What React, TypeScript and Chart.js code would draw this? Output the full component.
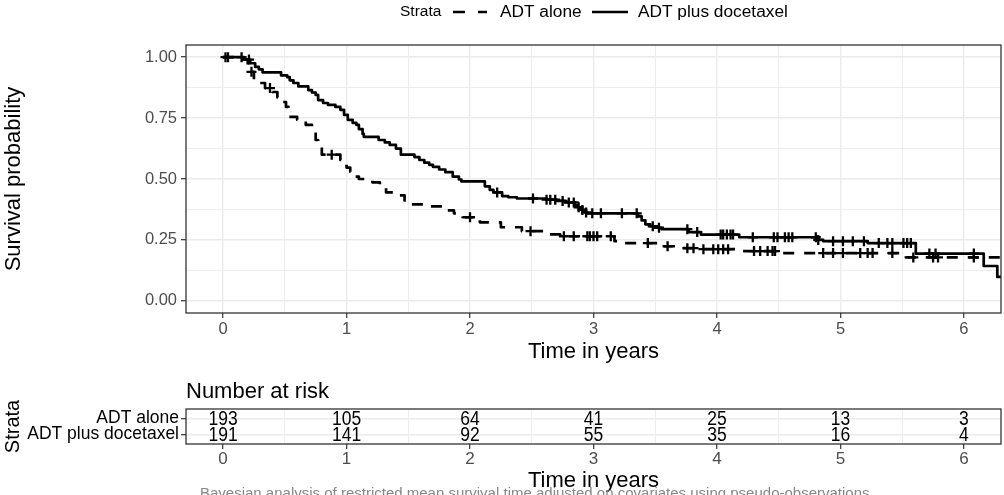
import React, { useEffect, useRef } from "react";
import { Chart, registerables } from "chart.js";

Chart.register(...registerables);

const FONT = "'Liberation Sans', Arial, Helvetica, sans-serif";

// ---------- Data ----------
const strata = ["ADT alone", "ADT plus docetaxel"];
const legendTitle = "Strata";

// Kaplan-Meier steps: ADT alone (value holds from time t onwards)
const aloneTimes = [0, 0.15, 0.2, 0.22, 0.25, 0.3, 0.34, 0.4, 0.44, 0.47, 0.51, 0.53, 0.6, 0.67, 0.72, 0.75, 0.77, 0.8, 0.95, 0.97, 1.0, 1.03, 1.06, 1.1, 1.21, 1.27, 1.32, 1.4, 1.47, 1.52, 1.62, 1.78, 1.87, 1.94, 2.08, 2.25, 2.42, 2.6, 2.73, 3.17, 3.25, 3.55, 3.7, 3.85, 4.18, 4.5, 5.53, 6.3];
const aloneSurv = [1.0, 0.99, 0.97, 0.94, 0.906, 0.894, 0.873, 0.857, 0.835, 0.816, 0.796, 0.755, 0.743, 0.722, 0.71, 0.66, 0.63, 0.6, 0.578, 0.567, 0.547, 0.53, 0.51, 0.5, 0.486, 0.47, 0.445, 0.433, 0.412, 0.396, 0.388, 0.371, 0.359, 0.343, 0.322, 0.302, 0.286, 0.273, 0.265, 0.245, 0.237, 0.224, 0.216, 0.212, 0.204, 0.196, 0.178, 0.178];
const aloneCensorTimes = [0.23, 0.38, 0.88, 2.0, 2.49, 2.76, 2.84, 2.95, 2.97, 3.0, 3.03, 3.14, 3.44, 3.6, 3.76, 3.81, 3.89, 3.97, 4.01, 4.05, 4.09, 4.3, 4.35, 4.41, 4.45, 4.47, 4.86, 4.94, 5.02, 5.16, 5.22, 5.26, 5.42, 5.59, 5.75, 5.79, 6.08];
const aloneCensorSurv = [0.94, 0.873, 0.6, 0.343, 0.286, 0.265, 0.265, 0.265, 0.265, 0.265, 0.265, 0.265, 0.237, 0.224, 0.216, 0.216, 0.212, 0.212, 0.212, 0.212, 0.212, 0.204, 0.204, 0.204, 0.204, 0.204, 0.196, 0.196, 0.196, 0.196, 0.196, 0.196, 0.196, 0.178, 0.178, 0.178, 0.178];

// Kaplan-Meier steps: ADT plus docetaxel
const doceTimes = [0, 0.17, 0.22, 0.26, 0.29, 0.32, 0.47, 0.52, 0.54, 0.57, 0.61, 0.69, 0.72, 0.75, 0.77, 0.81, 0.85, 0.91, 0.95, 0.98, 1.01, 1.05, 1.08, 1.1, 1.13, 1.14, 1.26, 1.31, 1.35, 1.4, 1.44, 1.55, 1.59, 1.63, 1.67, 1.7, 1.75, 1.8, 1.86, 1.91, 1.93, 2.12, 2.16, 2.19, 2.26, 2.31, 2.38, 2.62, 2.7, 2.77, 2.85, 2.87, 2.9, 2.93, 2.95, 3.36, 3.39, 3.42, 3.46, 3.52, 3.55, 3.77, 3.87, 4.18, 4.82, 4.86, 5.22, 5.61, 6.16, 6.27, 6.3];
const doceSurv = [1.0, 0.99, 0.975, 0.96, 0.95, 0.938, 0.925, 0.918, 0.905, 0.894, 0.88, 0.865, 0.855, 0.845, 0.824, 0.812, 0.804, 0.796, 0.784, 0.763, 0.743, 0.73, 0.722, 0.705, 0.685, 0.673, 0.66, 0.65, 0.64, 0.625, 0.6, 0.59, 0.578, 0.567, 0.558, 0.55, 0.539, 0.528, 0.51, 0.498, 0.49, 0.47, 0.455, 0.445, 0.43, 0.425, 0.42, 0.415, 0.41, 0.404, 0.392, 0.384, 0.373, 0.363, 0.359, 0.347, 0.33, 0.314, 0.306, 0.3, 0.294, 0.282, 0.272, 0.261, 0.25, 0.245, 0.237, 0.194, 0.143, 0.098, 0.098];
const doceCensorTimes = [0.02, 0.04, 0.15, 0.21, 2.22, 2.51, 2.62, 2.65, 2.69, 2.75, 2.8, 2.84, 2.88, 2.91, 2.94, 2.99, 3.06, 3.23, 3.35, 3.48, 3.53, 3.76, 3.84, 4.03, 4.05, 4.08, 4.11, 4.13, 4.29, 4.46, 4.49, 4.55, 4.58, 4.61, 4.8, 4.82, 4.94, 5.02, 5.1, 5.19, 5.31, 5.38, 5.42, 5.51, 5.54, 5.57, 5.72, 5.77, 6.08];
const doceCensorSurv = [1.0, 1.0, 1.0, 0.99, 0.445, 0.42, 0.415, 0.415, 0.415, 0.41, 0.404, 0.404, 0.384, 0.373, 0.363, 0.359, 0.359, 0.359, 0.359, 0.306, 0.3, 0.294, 0.282, 0.272, 0.272, 0.272, 0.272, 0.272, 0.261, 0.261, 0.261, 0.261, 0.261, 0.261, 0.261, 0.25, 0.245, 0.245, 0.245, 0.245, 0.237, 0.237, 0.237, 0.237, 0.237, 0.237, 0.194, 0.194, 0.194];

// Number at risk table
const riskTimes = [0, 1, 2, 3, 4, 5, 6];
const riskAlone = [193, 105, 64, 41, 25, 13, 3];
const riskDoce = [191, 141, 92, 55, 35, 16, 4];

// Axis ticks (major + minor grid)
const xTicks = [0, 0.5, 1, 1.5, 2, 2.5, 3, 3.5, 4, 4.5, 5, 5.5, 6];
const yTicks = [0, 0.125, 0.25, 0.375, 0.5, 0.625, 0.75, 0.875, 1];
const rowTicks = [0, 1];

const captionText =
  "Bayesian analysis of restricted mean survival time adjusted on covariates using pseudo-observations";

// ---------- Helpers ----------
const GRID = "#EBEBEB";
const DARK = "#333333";
const TICKTXT = "#4D4D4D";
const isMajorX = (v: number) => Math.abs(v - Math.round(v)) < 1e-9;
const isMajorY = (v: number) => Math.abs(v * 4 - Math.round(v * 4)) < 1e-9;
const pts = (xs: number[], ys: number[]) => xs.map((x, i) => ({ x, y: ys[i] }));

const panelBorder = {
  id: "panelBorder",
  afterDraw(chart: any) {
    const { ctx, chartArea: a } = chart;
    ctx.save();
    ctx.strokeStyle = DARK;
    ctx.lineWidth = 1.3;
    ctx.strokeRect(a.left, a.top, a.right - a.left, a.bottom - a.top);
    ctx.restore();
  },
};

const legendPlugin = {
  id: "kmLegend",
  afterDraw(chart: any) {
    const ctx = chart.ctx;
    const y = 12;
    ctx.save();
    ctx.fillStyle = "#000";
    ctx.textBaseline = "middle";
    ctx.textAlign = "left";
    ctx.font = `15.5px ${FONT}`;
    ctx.fillText(legendTitle, 400, y);
    ctx.strokeStyle = "#000";
    ctx.lineWidth = 2.7;
    ctx.setLineDash([12, 13]);
    ctx.beginPath();
    ctx.moveTo(453, y);
    ctx.lineTo(487, y);
    ctx.stroke();
    ctx.setLineDash([]);
    ctx.beginPath();
    ctx.moveTo(592, y);
    ctx.lineTo(628, y);
    ctx.stroke();
    ctx.font = `17.3px ${FONT}`;
    ctx.fillText(strata[0], 500, y);
    ctx.fillText(strata[1], 638, y);
    ctx.restore();
  },
};

const tablePlugin = {
  id: "riskTable",
  afterDatasetsDraw(chart: any) {
    const ctx = chart.ctx;
    const counts = [riskAlone, riskDoce];
    ctx.save();
    ctx.fillStyle = "#000";
    ctx.textAlign = "center";
    ctx.textBaseline = "middle";
    ctx.font = `17.5px ${FONT}`;
    chart.data.datasets.forEach((_: any, di: number) => {
      const meta = chart.getDatasetMeta(di);
      meta.data.forEach((el: any, i: number) => {
        ctx.save();
        ctx.translate(el.x, el.y + 1.5);
        ctx.scale(1, 1.12);
        ctx.fillText(String(counts[di][i]), 0, 0);
        ctx.restore();
      });
    });
    ctx.restore();
  },
  afterDraw(chart: any) {
    const ctx = chart.ctx;
    ctx.save();
    ctx.fillStyle = "#000";
    ctx.textAlign = "left";
    ctx.textBaseline = "middle";
    ctx.font = `22px ${FONT}`;
    ctx.fillText("Number at risk", chart.chartArea.left, 21.5);
    ctx.fillStyle = "#888888";
    ctx.textBaseline = "alphabetic";
    ctx.font = `15px ${FONT}`;
    ctx.fillText(captionText, 200, 127.5);
    ctx.restore();
  },
};

export default function App() {
  const c1 = useRef<HTMLCanvasElement>(null);
  const c2 = useRef<HTMLCanvasElement>(null);

  useEffect(() => {
    const lineCommon = {
      showLine: true,
      stepped: true,
      pointRadius: 0,
      borderColor: "#000",
      borderWidth: 2.7,
      borderJoinStyle: "round",
      fill: false,
    };
    const censorCommon = {
      showLine: false,
      pointStyle: "cross",
      pointRadius: 5,
      pointBorderWidth: 2.3,
      borderColor: "#000",
      backgroundColor: "#000",
      pointBorderColor: "#000",
    };

    const ch1 = new Chart(c1.current as HTMLCanvasElement, {
      type: "scatter",
      data: {
        datasets: [
          { ...lineCommon, label: strata[0], data: pts(aloneTimes, aloneSurv), borderDash: [11, 10] } as any,
          { ...lineCommon, label: strata[1], data: pts(doceTimes, doceSurv) } as any,
          { ...censorCommon, label: strata[0] + " censored", data: pts(aloneCensorTimes, aloneCensorSurv) } as any,
          { ...censorCommon, label: strata[1] + " censored", data: pts(doceCensorTimes, doceCensorSurv) } as any,
        ],
      },
      options: {
        responsive: false,
        animation: false,
        layout: { autoPadding: false, padding: { top: 45, right: 3, left: 0, bottom: 0 } },
        plugins: { legend: { display: false }, tooltip: { enabled: false } },
        scales: {
          x: {
            type: "linear",
            min: -0.3,
            max: 6.3,
            afterBuildTicks: (s: any) => {
              s.ticks = xTicks.map((v) => ({ value: v }));
            },
            afterFit: (s: any) => {
              s.height = 57;
            },
            ticks: {
              autoSkip: false,
              maxRotation: 0,
              padding: 2,
              color: TICKTXT,
              font: { family: FONT, size: 16.5 },
              callback: (v: any) => (isMajorX(Number(v)) ? String(v) : ""),
            },
            grid: {
              color: GRID,
              lineWidth: (c: any) => (isMajorX(c.tick.value) ? 1.4 : 0.9),
              tickColor: (c: any) => (isMajorX(c.tick.value) ? DARK : "rgba(0,0,0,0)"),
              tickWidth: 1.2,
              tickLength: 5,
            },
            border: { display: false },
            title: {
              display: true,
              text: "Time in years",
              color: "#000",
              font: { family: FONT, size: 22 },
              padding: { top: 0, bottom: 4.5 },
            },
          },
          y: {
            type: "linear",
            min: -0.05,
            max: 1.05,
            afterBuildTicks: (s: any) => {
              s.ticks = yTicks.map((v) => ({ value: v }));
            },
            afterFit: (s: any) => {
              s.width = 186;
            },
            ticks: {
              autoSkip: false,
              padding: 4,
              color: TICKTXT,
              font: { family: FONT, size: 16.5 },
              callback: (v: any) => (isMajorY(Number(v)) ? Number(v).toFixed(2) : ""),
            },
            grid: {
              color: GRID,
              lineWidth: (c: any) => (isMajorY(c.tick.value) ? 1.4 : 0.9),
              tickColor: (c: any) => (isMajorY(c.tick.value) ? DARK : "rgba(0,0,0,0)"),
              tickWidth: 1.2,
              tickLength: 5,
            },
            border: { display: false },
            title: {
              display: true,
              text: "Survival probability",
              color: "#000",
              font: { family: FONT, size: 22 },
              padding: { top: 1, bottom: 0 },
            },
          },
        },
      },
      plugins: [panelBorder, legendPlugin],
    } as any);

    const ch2 = new Chart(c2.current as HTMLCanvasElement, {
      type: "scatter",
      data: {
        datasets: [
          { label: strata[0], data: riskTimes.map((t) => ({ x: t, y: rowTicks[0] })), pointRadius: 0 },
          { label: strata[1], data: riskTimes.map((t) => ({ x: t, y: rowTicks[1] })), pointRadius: 0 },
        ],
      },
      options: {
        responsive: false,
        animation: false,
        layout: { autoPadding: false, padding: { top: 39, right: 3, left: 0, bottom: 0 } },
        plugins: { legend: { display: false }, tooltip: { enabled: false } },
        scales: {
          x: {
            type: "linear",
            min: -0.3,
            max: 6.3,
            afterBuildTicks: (s: any) => {
              s.ticks = xTicks.map((v) => ({ value: v }));
            },
            afterFit: (s: any) => {
              s.height = 51;
            },
            ticks: {
              autoSkip: false,
              maxRotation: 0,
              padding: 0,
              color: TICKTXT,
              font: { family: FONT, size: 17 },
              callback: (v: any) => (isMajorX(Number(v)) ? String(v) : ""),
            },
            grid: {
              color: GRID,
              lineWidth: (c: any) => (isMajorX(c.tick.value) ? 1.4 : 0.9),
              tickColor: (c: any) => (isMajorX(c.tick.value) ? DARK : "rgba(0,0,0,0)"),
              tickWidth: 1.2,
              tickLength: 5,
            },
            border: { display: false },
            title: {
              display: true,
              text: "Time in years",
              color: "#000",
              font: { family: FONT, size: 22 },
              padding: { top: 0, bottom: 1 },
            },
          },
          y: {
            type: "linear",
            min: -0.6,
            max: 1.6,
            reverse: true,
            afterBuildTicks: (s: any) => {
              s.ticks = rowTicks.map((v) => ({ value: v }));
            },
            afterFit: (s: any) => {
              s.width = 186;
            },
            ticks: {
              autoSkip: false,
              padding: 2,
              color: "#000",
              font: { family: FONT, size: 17.5 },
              callback: (v: any) => strata[Number(v)] ?? "",
            },
            grid: {
              color: GRID,
              lineWidth: 1.4,
              tickColor: DARK,
              tickWidth: 1.2,
              tickLength: 5,
            },
            border: { display: false },
            title: {
              display: true,
              text: "Strata",
              color: "#000",
              font: { family: FONT, size: 20 },
              padding: { top: 1, bottom: 0 },
            },
          },
        },
      },
      plugins: [panelBorder, tablePlugin],
    } as any);

    return () => {
      ch1.destroy();
      ch2.destroy();
    };
  }, []);

  return (
    <div style={{ position: "absolute", left: 0, top: 0, width: 1004, height: 495, background: "#fff", overflow: "hidden" }}>
      <canvas ref={c1} width={1004} height={370} style={{ position: "absolute", left: 0, top: 0, display: "block" }} />
      <canvas ref={c2} width={1004} height={125} style={{ position: "absolute", left: 0, top: 370, display: "block" }} />
    </div>
  );
}
